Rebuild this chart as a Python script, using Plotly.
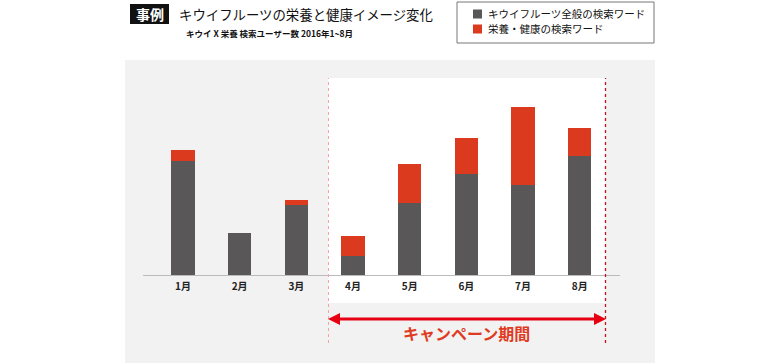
import plotly.graph_objects as go

months = ["1月", "2月", "3月", "4月", "5月", "6月", "7月", "8月"]
general_words = [114, 42, 70, 19, 72, 101, 90, 119]
health_words = [11, 0, 5, 20, 39, 36, 78, 28]
series_names = ["キウイフルーツ全般の検索ワード", "栄養・健康の検索ワード"]

W, H = 780, 364
FONT = "Noto Sans CJK JP"
GRAY = "#595757"
RED = "#db3a1e"


def px(x):
    return x / W


def py(y):
    return 1 - y / H


fig = go.Figure()
fig.add_trace(go.Bar(x=months, y=general_words, name=series_names[0],
                     marker=dict(color=GRAY, line=dict(width=0)), width=0.41,
                     hoverinfo="skip"))
fig.add_trace(go.Bar(x=months, y=health_words, name=series_names[1],
                     marker=dict(color=RED, line=dict(width=0)), width=0.41,
                     hoverinfo="skip"))

shapes = []
# gray panel and white campaign panel
shapes.append(dict(type="rect", xref="paper", yref="paper", x0=px(125), x1=px(655),
                   y0=py(363), y1=py(60), fillcolor="#f2f2f2", line=dict(width=0), layer="below"))
shapes.append(dict(type="rect", xref="paper", yref="paper", x0=px(328), x1=px(605),
                   y0=py(303), y1=py(78), fillcolor="#ffffff", line=dict(width=0), layer="below"))
# dotted boundaries
shapes.append(dict(type="line", xref="paper", yref="paper", x0=px(328.5), x1=px(328.5),
                   y0=py(343), y1=py(78), line=dict(color="#f5a3aa", width=1, dash="dot")))
shapes.append(dict(type="line", xref="paper", yref="paper", x0=px(605.5), x1=px(605.5),
                   y0=py(343), y1=py(78), line=dict(color="#c8101e", width=1.3, dash="dot")))
# campaign arrow
ay = 319
shapes.append(dict(type="line", xref="paper", yref="paper", x0=px(336), x1=px(597),
                   y0=py(ay), y1=py(ay), line=dict(color="#e60012", width=3)))
shapes.append(dict(type="path", xref="paper", yref="paper",
                   path=f"M {px(328)} {py(ay)} L {px(340)} {py(ay-6)} L {px(340)} {py(ay+6)} Z",
                   fillcolor="#e60012", line=dict(width=0)))
shapes.append(dict(type="path", xref="paper", yref="paper",
                   path=f"M {px(606)} {py(ay)} L {px(594)} {py(ay-6)} L {px(594)} {py(ay+6)} Z",
                   fillcolor="#e60012", line=dict(width=0)))
# title black box
shapes.append(dict(type="rect", xref="paper", yref="paper", x0=px(130), x1=px(169),
                   y0=py(24), y1=py(4), fillcolor="#111111", line=dict(width=0)))
# legend box and swatches
shapes.append(dict(type="rect", xref="paper", yref="paper", x0=px(457), x1=px(654),
                   y0=py(43), y1=py(2), fillcolor="#ffffff", line=dict(color="#777777", width=1)))
shapes.append(dict(type="rect", xref="paper", yref="paper", x0=px(473), x1=px(482),
                   y0=py(18.5), y1=py(9.5), fillcolor=GRAY, line=dict(width=0)))
shapes.append(dict(type="rect", xref="paper", yref="paper", x0=px(473), x1=px(482),
                   y0=py(33.5), y1=py(24.5), fillcolor=RED, line=dict(width=0)))


def note(text, x, y, size, color, xanchor="left"):
    return dict(text=text, x=px(x), y=py(y), xref="paper", yref="paper",
                xanchor=xanchor, yanchor="middle", showarrow=False,
                font=dict(family=FONT, size=size, color=color))


annotations = [
    note("<b>事例</b>", 149.5, 14, 14, "white", "center"),
    note("キウイフルーツの栄養と健康イメージ変化", 177, 14, 13.4, "#111111"),
    note("<b>キウイ X 栄養 検索ユーザー数 2016年1~8月</b>", 184, 33, 8.5, "#111111"),
    note(series_names[0], 486, 14, 10.5, "#111111"),
    note(series_names[1], 486, 29, 10.5, "#111111"),
    note("<b>キャンペーン期間</b>", 466.5, 333, 16, "#e03a22", "center"),
]

fig.update_layout(
    width=W, height=H,
    margin=dict(l=0, r=0, t=0, b=0),
    paper_bgcolor="white", plot_bgcolor="rgba(0,0,0,0)",
    barmode="stack", showlegend=False,
    shapes=shapes, annotations=annotations,
    xaxis=dict(domain=[px(143), px(620)], range=[-0.705, 7.71], showgrid=False,
               showline=True, linecolor="#bbbbbb", linewidth=1, ticks="",
               ticklabelstandoff=2,
               tickvals=months, ticktext=[f"<b>{m}</b>" for m in months],
               tickfont=dict(family=FONT, size=10, color="#222222"), fixedrange=True),
    yaxis=dict(domain=[py(275.3), py(78)], range=[0, 197.3], visible=False,
               showgrid=False, zeroline=False, fixedrange=True),
)

fig.write_html("out.html", config={"displayModeBar": False},
               post_script="document.body.style.margin='0';")
